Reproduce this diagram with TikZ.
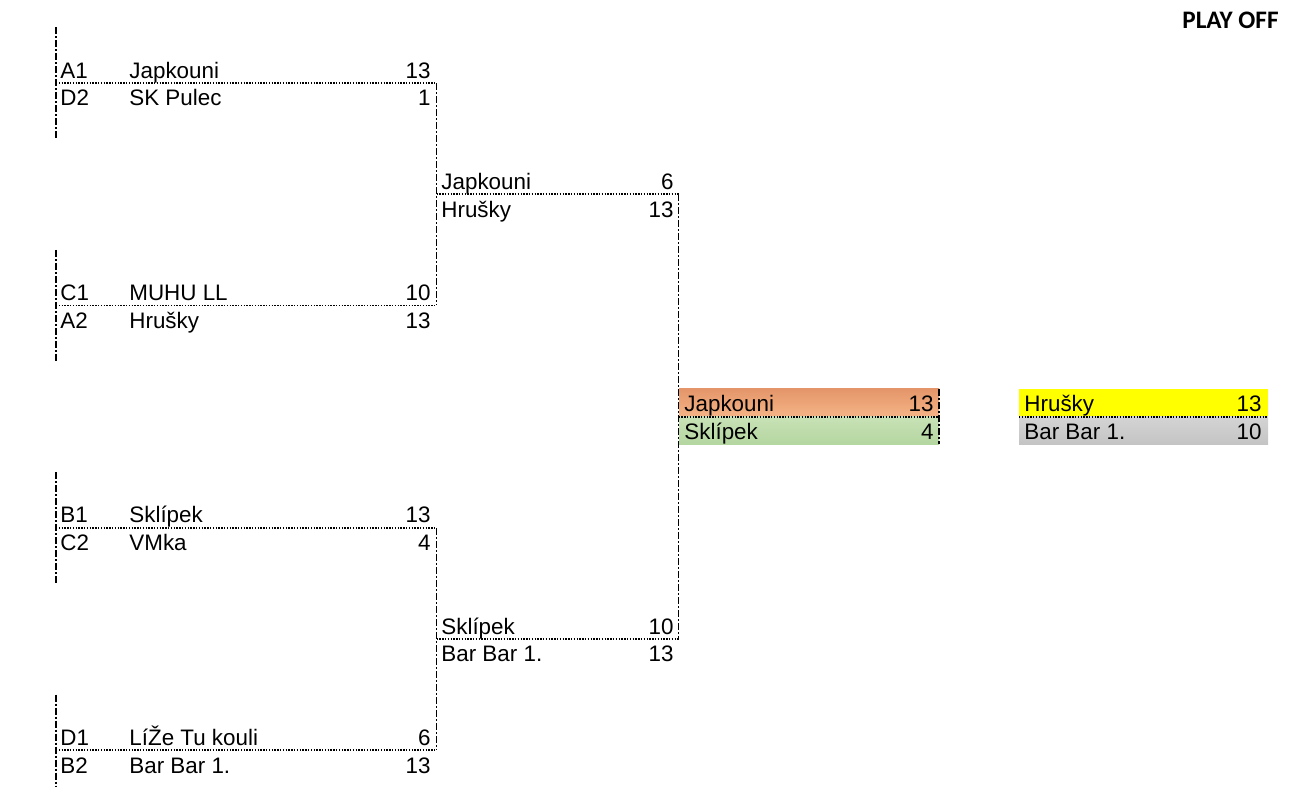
\documentclass[tikz,border=0pt]{standalone}
\usepackage{fontspec}
\setmainfont{Liberation Sans}
\newfontfamily\titlefont{Carlito}
\definecolor{orgtop}{RGB}{228,150,106}
\definecolor{orgbot}{RGB}{245,180,134}
\definecolor{grntop}{RGB}{200,226,182}
\definecolor{grnbot}{RGB}{180,214,160}
\definecolor{graytop}{RGB}{212,212,212}
\definecolor{graybot}{RGB}{196,196,196}
\definecolor{yel}{RGB}{255,255,0}
\begin{document}
\begin{tikzpicture}[x=0.5pt,y=-0.5pt,
  txt/.style={inner sep=0pt,font=\fontsize{11.2}{13}\selectfont},
  lt/.style={txt,anchor=base west},
  rt/.style={txt,anchor=base east},
  dotline/.style={line width=0.9pt,dash pattern=on 0.7pt off 0.7pt},
  dashdotline/.style={line width=0.9pt,dash pattern=on 3.5pt off 1pt on 1pt off 1pt}]
\useasboundingbox (0,0) rectangle (1315,804);
% fills
\shade[top color=orgtop,bottom color=orgbot] (679,388.8) rectangle (939,416.6);
\shade[top color=grntop,bottom color=grnbot] (679,416.6) rectangle (939,444.4);
\fill[yel] (1019,388.8) rectangle (1268,416.6);
\shade[top color=graytop,bottom color=graybot] (1019,416.6) rectangle (1268,444.4);
% coordinates
\coordinate (l1t) at (56,27.4);  \coordinate (l1b) at (56,138.6);
\coordinate (l2t) at (56,249.8); \coordinate (l2b) at (56,361);
\coordinate (l3t) at (56,472.2); \coordinate (l3b) at (56,583.4);
\coordinate (l4t) at (56,694.6); \coordinate (l4b) at (56,786);
\coordinate (g1l) at (56,83);    \coordinate (g1r) at (436.5,83);
\coordinate (g2l) at (56,305.4); \coordinate (g2r) at (436.5,305.4);
\coordinate (g3l) at (56,527.8); \coordinate (g3r) at (436.5,527.8);
\coordinate (g4l) at (56,750.2); \coordinate (g4r) at (436.5,750.2);
\coordinate (s1r) at (678.5,194.2);
\coordinate (s2r) at (678.5,639);
\coordinate (fl) at (678.5,416.6); \coordinate (fr) at (939,416.6);
\coordinate (ftr) at (939,388.8); \coordinate (fbr) at (939,444.4);
\coordinate (tl) at (1019,416.6); \coordinate (tr) at (1268,416.6);
% vertical dash-dot lines
\draw[dashdotline] (l1t) -- (l1b);
\draw[dashdotline] (l2t) -- (l2b);
\draw[dashdotline] (l3t) -- (l3b);
\draw[dashdotline] (l4t) -- (l4b);
\draw[dashdotline] (g1r) -- (g2r);
\draw[dashdotline] (g3r) -- (g4r);
\draw[dashdotline] (s1r) -- (s2r);
\draw[dashdotline] (ftr) -- (fbr);
% dotted dividers
\draw[dotline] (g1l) -- (g1r);
\draw[dotline] (g2l) -- (g2r);
\draw[dotline] (g3l) -- (g3r);
\draw[dotline] (g4l) -- (g4r);
\draw[dotline] (436.5,194.2) -- (s1r);
\draw[dotline] (436.5,639) -- (s2r);
\draw[dotline] (fl) -- (fr);
\draw[dotline] (tl) -- (tr);
% title
\node[inner sep=0pt,anchor=base east,font=\titlefont\bfseries\fontsize{12.6}{14}\selectfont] (title) at (1279,28) {PLAY OFF};
% round 1
\node[lt] (c1) at (60,78) {A1};   \node[lt] (n1) at (129,78) {Japkouni};     \node[rt] (s1) at (431,78) {13};
\node[lt] (c2) at (60,105.8) {D2}; \node[lt] (n2) at (129,105.8) {SK Pulec}; \node[rt] (s2) at (431,105.8) {1};
\node[lt] (c3) at (60,300.4) {C1}; \node[lt] (n3) at (129,300.4) {MUHU LL};  \node[rt] (s3) at (431,300.4) {10};
\node[lt] (c4) at (60,328.2) {A2}; \node[lt] (n4) at (129,328.2) {Hrušky};   \node[rt] (s4) at (431,328.2) {13};
\node[lt] (c5) at (60,522.8) {B1}; \node[lt] (n5) at (129,522.8) {Sklípek};  \node[rt] (s5) at (431,522.8) {13};
\node[lt] (c6) at (60,550.6) {C2}; \node[lt] (n6) at (129,550.6) {VMka};     \node[rt] (s6) at (431,550.6) {4};
\node[lt] (c7) at (60,745.2) {D1}; \node[lt] (n7) at (129,745.2) {LíŽe Tu kouli}; \node[rt] (s7) at (431,745.2) {6};
\node[lt] (c8) at (60,773) {B2};   \node[lt] (n8) at (129,773) {Bar Bar 1.}; \node[rt] (s8) at (431,773) {13};
% round 2
\node[lt] (m1) at (441,189.2) {Japkouni};   \node[rt] (ms1) at (674,189.2) {6};
\node[lt] (m2) at (441,217) {Hrušky};       \node[rt] (ms2) at (674,217) {13};
\node[lt] (m3) at (441,634) {Sklípek};      \node[rt] (ms3) at (674,634) {10};
\node[lt] (m4) at (441,661.8) {Bar Bar 1.}; \node[rt] (ms4) at (674,661.8) {13};
% final
\node[lt] (f1) at (684,411.6) {Japkouni}; \node[rt] (fs1) at (934,411.6) {13};
\node[lt] (f2) at (684,439.4) {Sklípek};  \node[rt] (fs2) at (934,439.4) {4};
% third place
\node[lt] (t1) at (1024,411.6) {Hrušky};     \node[rt] (ts1) at (1262,411.6) {13};
\node[lt] (t2) at (1024,439.4) {Bar Bar 1.}; \node[rt] (ts2) at (1262,439.4) {10};
\end{tikzpicture}
\end{document}
